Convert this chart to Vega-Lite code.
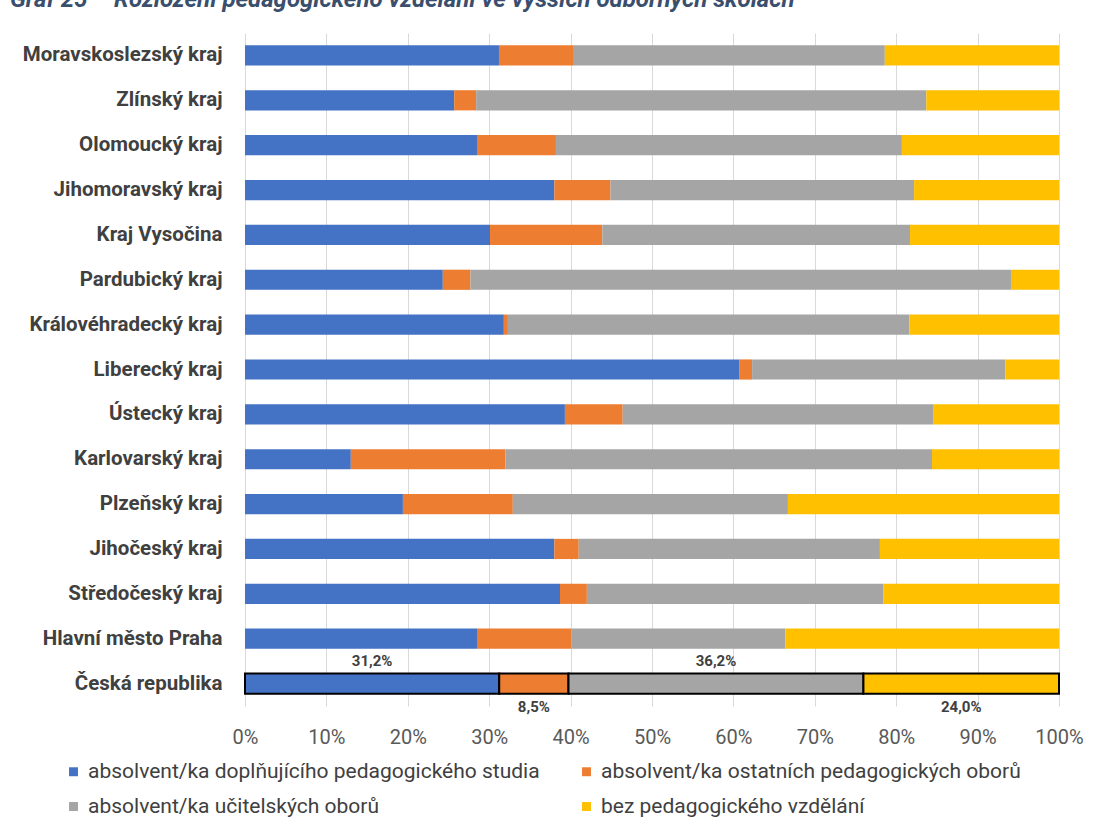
{
  "$schema": "https://vega.github.io/schema/vega-lite/v6.json",
  "width": 814,
  "height": 673,
  "autosize": {"type": "none"},
  "padding": {"left": 245, "top": 33, "right": 34, "bottom": 131},
  "background": "white",
  "title": {
    "text": "Graf 25 – Rozložení pedagogického vzdělání ve vyšších odborných školách",
    "anchor": "start",
    "frame": "group",
    "dx": -235,
    "dy": -21,
    "offset": 0,
    "font": "Roboto",
    "fontSize": 24,
    "fontStyle": "italic",
    "fontWeight": "bold",
    "color": "#3A4F6E"
  },
  "data": {
    "values": [
      {"kraj": "Moravskoslezský kraj", "absolvent/ka doplňujícího pedagogického studia": 0.312, "absolvent/ka ostatních pedagogických oborů": 0.092, "absolvent/ka učitelských oborů": 0.382, "bez pedagogického vzdělání": 0.214},
      {"kraj": "Zlínský kraj", "absolvent/ka doplňujícího pedagogického studia": 0.257, "absolvent/ka ostatních pedagogických oborů": 0.027, "absolvent/ka učitelských oborů": 0.553, "bez pedagogického vzdělání": 0.163},
      {"kraj": "Olomoucký kraj", "absolvent/ka doplňujícího pedagogického studia": 0.285, "absolvent/ka ostatních pedagogických oborů": 0.097, "absolvent/ka učitelských oborů": 0.425, "bez pedagogického vzdělání": 0.193},
      {"kraj": "Jihomoravský kraj", "absolvent/ka doplňujícího pedagogického studia": 0.380, "absolvent/ka ostatních pedagogických oborů": 0.069, "absolvent/ka učitelských oborů": 0.373, "bez pedagogického vzdělání": 0.178},
      {"kraj": "Kraj Vysočina", "absolvent/ka doplňujícího pedagogického studia": 0.301, "absolvent/ka ostatních pedagogických oborů": 0.138, "absolvent/ka učitelských oborů": 0.378, "bez pedagogického vzdělání": 0.183},
      {"kraj": "Pardubický kraj", "absolvent/ka doplňujícího pedagogického studia": 0.243, "absolvent/ka ostatních pedagogických oborů": 0.034, "absolvent/ka učitelských oborů": 0.664, "bez pedagogického vzdělání": 0.059},
      {"kraj": "Královéhradecký kraj", "absolvent/ka doplňujícího pedagogického studia": 0.318, "absolvent/ka ostatních pedagogických oborů": 0.005, "absolvent/ka učitelských oborů": 0.493, "bez pedagogického vzdělání": 0.184},
      {"kraj": "Liberecký kraj", "absolvent/ka doplňujícího pedagogického studia": 0.607, "absolvent/ka ostatních pedagogických oborů": 0.016, "absolvent/ka učitelských oborů": 0.311, "bez pedagogického vzdělání": 0.066},
      {"kraj": "Ústecký kraj", "absolvent/ka doplňujícího pedagogického studia": 0.393, "absolvent/ka ostatních pedagogických oborů": 0.071, "absolvent/ka učitelských oborů": 0.382, "bez pedagogického vzdělání": 0.154},
      {"kraj": "Karlovarský kraj", "absolvent/ka doplňujícího pedagogického studia": 0.130, "absolvent/ka ostatních pedagogických oborů": 0.190, "absolvent/ka učitelských oborů": 0.524, "bez pedagogického vzdělání": 0.156},
      {"kraj": "Plzeňský kraj", "absolvent/ka doplňujícího pedagogického studia": 0.194, "absolvent/ka ostatních pedagogických oborů": 0.135, "absolvent/ka učitelských oborů": 0.338, "bez pedagogického vzdělání": 0.333},
      {"kraj": "Jihočeský kraj", "absolvent/ka doplňujícího pedagogického studia": 0.380, "absolvent/ka ostatních pedagogických oborů": 0.030, "absolvent/ka učitelských oborů": 0.370, "bez pedagogického vzdělání": 0.220},
      {"kraj": "Středočeský kraj", "absolvent/ka doplňujícího pedagogického studia": 0.387, "absolvent/ka ostatních pedagogických oborů": 0.033, "absolvent/ka učitelských oborů": 0.364, "bez pedagogického vzdělání": 0.216},
      {"kraj": "Hlavní město Praha", "absolvent/ka doplňujícího pedagogického studia": 0.285, "absolvent/ka ostatních pedagogických oborů": 0.116, "absolvent/ka učitelských oborů": 0.263, "bez pedagogického vzdělání": 0.336},
      {"kraj": "Česká republika", "absolvent/ka doplňujícího pedagogického studia": 0.312, "absolvent/ka ostatních pedagogických oborů": 0.085, "absolvent/ka učitelských oborů": 0.362, "bez pedagogického vzdělání": 0.240}
    ]
  },
  "transform": [
    {"fold": ["absolvent/ka doplňujícího pedagogického studia", "absolvent/ka ostatních pedagogických oborů", "absolvent/ka učitelských oborů", "bez pedagogického vzdělání"], "as": ["typ", "podil"]}
  ],
  "encoding": {
    "y": {
      "field": "kraj",
      "type": "nominal",
      "sort": null,
      "scale": {"paddingInner": 0.55, "paddingOuter": 0.275},
      "axis": {"title": null, "domain": false, "ticks": false, "grid": false, "labelFont": "Roboto", "labelFontSize": 20.5, "labelFontWeight": "bold", "labelColor": "#404040", "labelPadding": 23, "labelLimit": 300}
    }
  },
  "layer": [
    {
      "mark": {"type": "bar"},
      "encoding": {
        "x": {
          "field": "podil",
          "type": "quantitative",
          "stack": "normalize",
          "scale": {"domain": [0, 1]},
          "axis": {"title": null, "values": [0, 0.1, 0.2, 0.3, 0.4, 0.5, 0.6, 0.7, 0.8, 0.9, 1], "format": ".0%", "domain": false, "ticks": false, "gridColor": "#D9D9D9", "gridWidth": 1, "labelFlush": false, "labelFont": "Roboto", "labelFontSize": 20, "labelColor": "#595959", "labelPadding": 21}
        },
        "color": {
          "field": "typ",
          "type": "nominal",
          "scale": {
            "domain": ["absolvent/ka doplňujícího pedagogického studia", "absolvent/ka ostatních pedagogických oborů", "absolvent/ka učitelských oborů", "bez pedagogického vzdělání"],
            "range": ["#4472C4", "#ED7D31", "#A5A5A5", "#FFC000"]
          },
          "legend": {
            "title": null,
            "orient": "none",
            "direction": "horizontal",
            "legendX": -182,
            "legendY": 728,
            "columns": 2,
            "columnPadding": 36,
            "rowPadding": 13,
            "symbolType": "square",
            "symbolSize": 80,
            "symbolStrokeWidth": 0,
            "labelFont": "Roboto",
            "labelFontSize": 21,
            "labelColor": "#404040",
            "labelOffset": 4,
            "labelLimit": 0
          }
        },
        "order": {"field": "typ", "sort": "ascending"},
        "stroke": {"condition": {"test": "datum.kraj === 'Česká republika'", "value": "#000000"}, "value": null},
        "strokeWidth": {"condition": {"test": "datum.kraj === 'Česká republika'", "value": 2}, "value": 0}
      }
    },
    {
      "transform": [{"filter": "datum.kraj === 'Česká republika'"}],
      "mark": {"type": "text", "dy": -23, "font": "Roboto", "fontSize": 15, "fontWeight": "bold", "color": "#404040"},
      "encoding": {
        "x": {"field": "podil", "type": "quantitative", "stack": "normalize", "bandPosition": 0.5},
        "detail": {"field": "typ"},
        "order": {"field": "typ", "sort": "ascending"},
        "text": {"condition": {"test": "indexof(['absolvent/ka doplňujícího pedagogického studia', 'absolvent/ka učitelských oborů'], datum.typ) >= 0", "field": "podil", "type": "quantitative", "format": ".1%"}, "value": ""}
      }
    },
    {
      "transform": [{"filter": "datum.kraj === 'Česká republika'"}],
      "mark": {"type": "text", "dy": 23, "font": "Roboto", "fontSize": 15, "fontWeight": "bold", "color": "#404040"},
      "encoding": {
        "x": {"field": "podil", "type": "quantitative", "stack": "normalize", "bandPosition": 0.5},
        "detail": {"field": "typ"},
        "order": {"field": "typ", "sort": "ascending"},
        "text": {"condition": {"test": "indexof(['absolvent/ka ostatních pedagogických oborů', 'bez pedagogického vzdělání'], datum.typ) >= 0", "field": "podil", "type": "quantitative", "format": ".1%"}, "value": ""}
      }
    }
  ],
  "config": {
    "view": {"stroke": null},
    "locale": {"number": {"decimal": ",", "thousands": " ", "grouping": [3], "currency": ["", " Kč"]}}
  }
}
